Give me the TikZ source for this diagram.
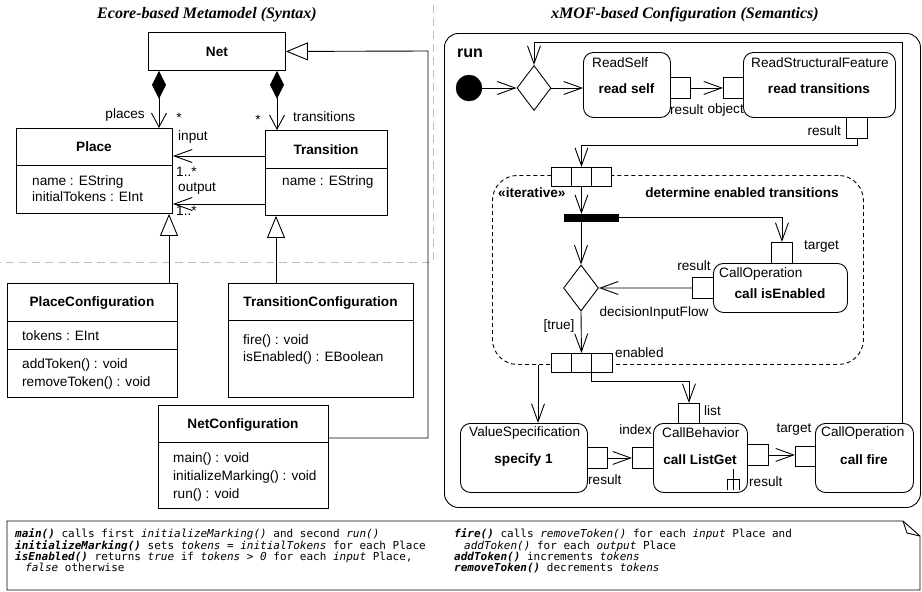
\documentclass[tikz,border=0pt]{standalone}
\usepackage{fontspec}
\setmainfont{Liberation Sans}
\setmonofont{DejaVu Sans Mono}
\newfontfamily\ttlfont{Liberation Serif}
\usetikzlibrary{arrows.meta,shapes.geometric,calc}
\newcommand\mybox[6]{\node[#1, minimum width={(#5-#3)*1pt}, minimum height={(#6-#4)*1pt}, anchor=north west] (#2) at (#3,#4) {};}
\tikzset{
  ln/.style={line width=0.9pt},
  cls/.style={draw, ln, inner sep=0pt},
  act/.style={draw, ln, inner sep=0pt, rounded corners=10pt},
  pinb/.style={draw, ln, fill=white, inner sep=0pt},
  rgn/.style={draw, ln, inner sep=0pt, rounded corners=25pt, dash pattern=on 4pt off 3pt},
  forkst/.style={draw, fill=black, inner sep=0pt},
  txt/.style={inner sep=0pt, font=\fontsize{13.6}{15}\selectfont},
  btxt/.style={inner sep=0pt, font=\fontsize{13.6}{15}\selectfont\bfseries},
  mono/.style={inner sep=0pt, anchor=base west, font=\ttfamily\fontsize{11}{11.5}\selectfont},
  oarr/.style={ln, -{Straight Barb[length=18pt,width=13pt]}},
  gen/.style={ln, -{Triangle[open,length=22pt,width=18pt]}},
  comp/.style={ln, {Diamond[length=28pt,width=14pt]}-{Straight Barb[length=14pt,width=15pt]}},
  sep/.style={draw=gray!50, line width=1pt, dash pattern=on 8pt off 5pt},
  ttl/.style={inner sep=0pt, font=\ttlfont\fontsize{16}{18}\selectfont\bfseries\itshape},
}
\begin{document}
\begin{tikzpicture}[x=1pt,y=-1pt]
\useasboundingbox (0,0) rectangle (922,592);

% titles and separators
\node[ttl] (ttl1) at (207,15) {Ecore-based Metamodel (Syntax)};
\node[ttl] (ttl2) at (685,15) {xMOF-based Configuration (Semantics)};
\draw[sep] (433,5) -- (433,262) -- (0,262);

% ===== class diagram =====
\mybox{cls}{net}{148}{32}{285}{70}
\node[btxt] (netT) at (net.center) {Net};

\mybox{cls}{place}{16}{128}{172}{213}
\draw[ln] (16,165) -- (172,165);
\node[btxt] (placeT) at (94,147) {Place};
\node[txt, anchor=west] (placeA1) at (32,182) {name : EString};
\node[txt, anchor=west] (placeA2) at (32,197) {initialTokens : EInt};

\mybox{cls}{trans}{265}{130}{387}{215}
\draw[ln] (265,168) -- (387,168);
\node[btxt] (transT) at (326,150) {Transition};
\node[txt, anchor=west] (transA1) at (282,182) {name : EString};

\mybox{cls}{pconf}{7}{283}{177}{397}
\draw[ln] (7,321) -- (177,321);
\draw[ln] (7,349) -- (177,349);
\node[btxt] (pconfT) at (92,303) {PlaceConfiguration};
\node[txt, anchor=west] (pconfA1) at (22,336) {tokens : EInt};
\node[txt, anchor=west] (pconfO1) at (22,365) {addToken() : void};
\node[txt, anchor=west] (pconfO2) at (22,383) {removeToken() : void};

\mybox{cls}{tconf}{228}{283}{413}{397}
\draw[ln] (228,320) -- (413,320);
\node[btxt] (tconfT) at (320.5,303) {TransitionConfiguration};
\node[txt, anchor=west] (tconfO1) at (243,341) {fire() : void};
\node[txt, anchor=west] (tconfO2) at (243,358) {isEnabled() : EBoolean};

\mybox{cls}{nconf}{158}{405}{328}{508}
\draw[ln] (158,442) -- (328,442);
\node[btxt] (nconfT) at (243,425) {NetConfiguration};
\node[txt, anchor=west] (nconfO1) at (173,459) {main() : void};
\node[txt, anchor=west] (nconfO2) at (173,477) {initializeMarking() : void};
\node[txt, anchor=west] (nconfO3) at (173,495) {run() : void};

% class connectors
\draw[comp] (net.south -| 159,0) -- (place.north -| 159,0);
\draw[comp] (net.south -| 277,0) -- (trans.north -| 277,0);
\draw[oarr] (trans.west |- 0,156) -- (place.east |- 0,156);
\draw[oarr] (trans.west |- 0,204) -- (place.east |- 0,204);
\draw[gen] (pconf.north -| 169,0) -- (place.south -| 169,0);
\draw[gen] (tconf.north -| 276,0) -- (trans.south -| 276,0);
\draw[gen] (nconf.east |- 0,438) -- (428,438) -- (428,51) -- (net.east);

\node[txt, anchor=east] (lplaces) at (145,115) {places};
\node[txt, anchor=base] (lst1) at (179,122) {*};
\node[txt, anchor=base] (lst2) at (258,124) {*};
\node[txt, anchor=west] (ltrans) at (293,117) {transitions};
\node[txt, anchor=west] (linput) at (178,137) {input};
\node[txt, anchor=west] (lm1) at (176,172) {1..*};
\node[txt, anchor=west] (loutput) at (178,189) {output};
\node[txt, anchor=west] (lm2) at (176,211) {1..*};

% ===== activity =====
\mybox{act, rounded corners=14pt}{run}{444}{33}{920}{507}
\node[inner sep=0pt, anchor=west, font=\fontsize{16}{18}\selectfont\bfseries] (runT) at (457,53) {run};

\node[circle, fill=black, draw, minimum size=26pt, inner sep=0pt] (init) at (469,88) {};
\node[diamond, draw, ln, minimum width=34pt, minimum height=45pt, inner sep=0pt] (merge) at (534,88) {};

\mybox{act}{readself}{583}{52}{670}{117}
\node[txt, anchor=west] (readselfL) at (592,63) {ReadSelf};
\node[btxt] (readselfT) at (626.5,89) {read self};
\mybox{pinb}{rsres}{670}{77}{690}{98}

\mybox{act}{rsf}{743}{52}{895}{117}
\node[txt, anchor=west] (rsfL) at (751,63) {ReadStructuralFeature};
\node[btxt] (rsfT) at (819,89) {read transitions};
\mybox{pinb}{rsfobj}{723}{77}{743}{98}
\mybox{pinb}{rsfres}{846}{117}{867}{138}
\node[txt, anchor=west] (lres1) at (670,110) {result};
\node[txt, anchor=east] (lobj) at (744,110) {object};
\node[txt, anchor=east] (lres2) at (841,131) {result};

\draw[oarr] (init) -- (merge.west);
\draw[oarr] (merge.east) -- (readself.west |- merge.east);
\draw[oarr] (rsres.east) -- (rsfobj.west);

% expansion region
\mybox{rgn}{region}{492}{175}{863}{364}
\mybox{pinb}{inA}{551}{167}{571}{186}
\mybox{pinb}{inB}{571}{167}{591}{186}
\mybox{pinb}{inC}{591}{167}{611}{186}
\node[btxt, anchor=west] (liter) at (498,193) {«iterative»};
\node[btxt] (ldet) at (742,193) {determine enabled transitions};
\draw[oarr] (rsfres.south) -- (rsfres.south |- 0,145) -| (inB.north);

\mybox{forkst}{fork}{564}{214}{618}{221}
\draw[oarr] (inB.south) -- (inB.south |- fork.north);

\mybox{act}{cie}{713}{263}{847}{312}
\node[txt, anchor=west] (cieL) at (719,274) {CallOperation};
\node[btxt] (cieT) at (780,294) {call isEnabled};
\mybox{pinb}{tgt}{771}{242}{792}{263}
\node[txt, anchor=west] (ltgt) at (804,247) {target};
\mybox{pinb}{cieres}{692}{277}{713}{298}
\node[txt] (lres3) at (694,266) {result};
\draw[oarr] (fork.east) -| (tgt.north);

\node[diamond, draw, ln, minimum width=35pt, minimum height=46pt, inner sep=0pt] (dec) at (581,288) {};
\draw[oarr] (fork.south -| dec.north) -- (dec.north);
\draw[oarr] (cieres.west) -- (dec.east);
\node[txt] (ldif) at (654,313) {decisionInputFlow};
\node[txt] (ltrue) at (559,326) {[true]};

\mybox{pinb}{outA}{551}{353}{571}{372}
\mybox{pinb}{outB}{571}{353}{591}{372}
\mybox{pinb}{outC}{591}{353}{612}{372}
\node[txt, anchor=west] (lenab) at (615,353) {enabled};
\draw[oarr] (dec.south) -- (outB.north);

% bottom row
\mybox{act}{vs}{460}{423}{587}{492}
\node[txt, anchor=west] (vsL) at (469,433) {ValueSpecification};
\node[btxt] (vsT) at (523.5,460) {specify 1};
\mybox{pinb}{vsres}{587}{447}{607}{468}
\node[txt, anchor=west] (lres4) at (588,480) {result};

\mybox{act}{clg}{653}{423}{747}{492}
\node[txt, anchor=west] (clgL) at (662,433) {CallBehavior};
\node[btxt] (clgT) at (700,460) {call ListGet};
\mybox{pinb}{idx}{632}{447}{653}{468}
\node[txt, anchor=east] (lidx) at (652,430) {index};
\mybox{pinb}{list}{678}{403}{699}{423}
\node[txt, anchor=west] (llist) at (704,411) {list};
\mybox{pinb}{lgres}{747}{444}{768}{465}
\node[txt, anchor=west] (lres5) at (749,482) {result};
\draw[ln] (733,469) -- (733,490);
\draw[ln] (727,490) -- (727,479) -- (739,479) -- (739,490);

\mybox{act}{cfire}{815}{423}{913}{492}
\node[txt, anchor=west] (cfireL) at (821,433) {CallOperation};
\node[btxt] (cfireT) at (864,460) {call fire};
\mybox{pinb}{ftgt}{795}{446}{815}{466}
\node[txt] (lftgt) at (794,430) {target};

\draw[oarr] (region.south -| 538,0) -- (vs.north -| 538,0);
\draw[oarr] (outB.south east) -- (outB.south east |- 0,381) -| (list.north);
\draw[oarr] (vsres.east) -- (idx.west);
\draw[oarr] (lgres.east) -- (ftgt.west |- lgres.east);
\draw[oarr] (cfire.north -| 902,0) -- (902,42) -| (merge.north);

% ===== note =====
\draw[ln] (7,521) -- (903,521) -- (920,536) -- (920,590) -- (7,590) -- cycle;
\draw[ln] (903,521) -- (907,533) -- (920,536);
\node[mono] (nl1) at (15,537) {\textbf{\textit{main()}} calls first \textit{initializeMarking()} and second \textit{run()}};
\node[mono] (nl2) at (15,549) {\textbf{\textit{initializeMarking()}} sets \textit{tokens} = \textit{initialTokens} for each Place};
\node[mono] (nl3) at (15,560) {\textbf{\textit{isEnabled()}} returns \textit{true} if \textit{tokens > 0} for each \textit{input} Place,};
\node[mono] (nl4) at (25,571) {\textit{false} otherwise};
\node[mono] (nr1) at (454,537) {\textbf{\textit{fire()}} calls \textit{removeToken()} for each \textit{input} Place and};
\node[mono] (nr2) at (464,549) {\textit{addToken()} for each \textit{output} Place};
\node[mono] (nr3) at (454,560) {\textbf{\textit{addToken()}} increments \textit{tokens}};
\node[mono] (nr4) at (454,571) {\textbf{\textit{removeToken()}} decrements \textit{tokens}};
\end{tikzpicture}
\end{document}
